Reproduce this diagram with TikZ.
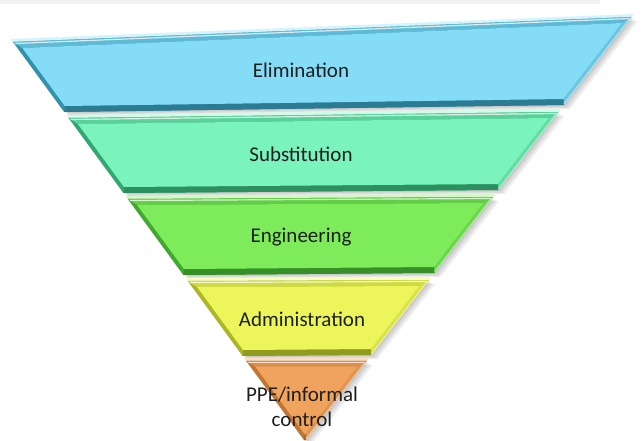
\documentclass[tikz,border=0pt]{standalone}
\usepackage{fontspec}
\setmainfont{Carlito}
\usetikzlibrary{calc}

\definecolor{elimMain}{RGB}{132,220,246}
\definecolor{elimDark}{RGB}{50,145,172}
\definecolor{subMain}{RGB}{122,243,188}
\definecolor{subDark}{RGB}{50,168,112}
\definecolor{engMain}{RGB}{126,236,90}
\definecolor{engDark}{RGB}{65,168,48}
\definecolor{admMain}{RGB}{236,246,90}
\definecolor{admDark}{RGB}{172,182,38}
\definecolor{ppeMain}{RGB}{240,163,92}
\definecolor{ppeDark}{RGB}{192,118,52}

% #1 top-left y, #2 top-right y, #3 bottom-left y, #4 bottom-right y, #5 colour prefix
\newcommand\bevelband[5]{%
  % soft shadow towards the lower right
  \foreach \s in {2,4,6}{
    \fill[black, opacity=0.07]
      ({lx(#1)+\s},{#1+0.7*\s}) -- ({rx(#2)+\s},{#2+0.7*\s}) --
      ({rx(#4)+\s},{#4+0.7*\s}) -- ({lx(#3)+\s},{#3+0.7*\s}) -- cycle;
  }
  % pale lip above the band
  \fill[#5Main!35!white] ({lx(#1-3)},{#1-3}) -- ({rx(#2-3)},{#2-3}) --
      ({rx(#2)},#2) -- ({lx(#1)},#1) -- cycle;
  % outer frame
  \fill[#5Dark] ({lx(#1)},#1) -- ({rx(#2)},#2) -- ({rx(#4)},#4) -- ({lx(#3)},#3) -- cycle;
  % top facet
  \fill[#5Dark!45!#5Main] ({lx(#1)},#1) -- ({rx(#2)},#2) --
      ({rx(#2+6)-5},{#2+6}) -- ({lx(#1+6)+5},{#1+6}) -- cycle;
  % right facet
  \fill[#5Main!70!#5Dark] ({rx(#2)},#2) -- ({rx(#4)},#4) --
      ({rx(#4-6)-5},{#4-6}) -- ({rx(#2+6)-5},{#2+6}) -- cycle;
  % bottom facet
  \fill[#5Dark!85!black] ({lx(#3)},#3) -- ({rx(#4)},#4) --
      ({rx(#4-6)-5},{#4-6}) -- ({lx(#3-6)+5},{#3-6}) -- cycle;
  % face
  \fill[#5Main] ({lx(#1+6)+5},{#1+6}) -- ({rx(#2+6)-5},{#2+6}) --
      ({rx(#4-6)-5},{#4-6}) -- ({lx(#3-6)+5},{#3-6}) -- cycle;
  % highlights
  \draw[white, opacity=0.75, line width=1.2pt]
      ({lx(#1+1.5)+1},{#1+1.5}) -- ({rx(#2+1.5)-1},{#2+1.5});
  \draw[white, opacity=0.6, line width=0.8pt]
      ({rx(#2+1)-0.5},{#2+1}) -- ({rx(#4-1)-0.5},{#4-1});
}

\begin{document}
\begin{tikzpicture}[x=1pt, y=-1pt,
  declare function={lx(\q)=13+0.731*(\q-42); rx(\q)=305+0.77*(441-\q);},
  tierlabel/.style={font=\fontsize{21}{25}\selectfont, text=black!88,
    align=center, inner sep=0pt}]
  \useasboundingbox (0,0) rectangle (641,441);
  \fill[white] (0,0) rectangle (641,441);
  % faint strip along the top edge
  \fill[gray!10] (0,0) rectangle (600,4);

  \bevelband{42}{17}{112}{105}{elim}
  \bevelband{118}{112}{193}{190}{sub}
  \bevelband{199}{197}{275}{273}{eng}
  \bevelband{281}{280}{356}{355}{adm}
  \bevelband{361}{361}{440}{440}{ppe}

  \node[tierlabel] (elim)  at (301,70)  {Elimination};
  \node[tierlabel] (subst) at (301,154) {Substitution};
  \node[tierlabel] (eng)   at (301,237) {Engineering};
  \node[tierlabel] (adm)   at (302,319) {Administration};
  \node[tierlabel] (ppe)   at (302,407) {PPE/informal\\control};
\end{tikzpicture}
\end{document}
